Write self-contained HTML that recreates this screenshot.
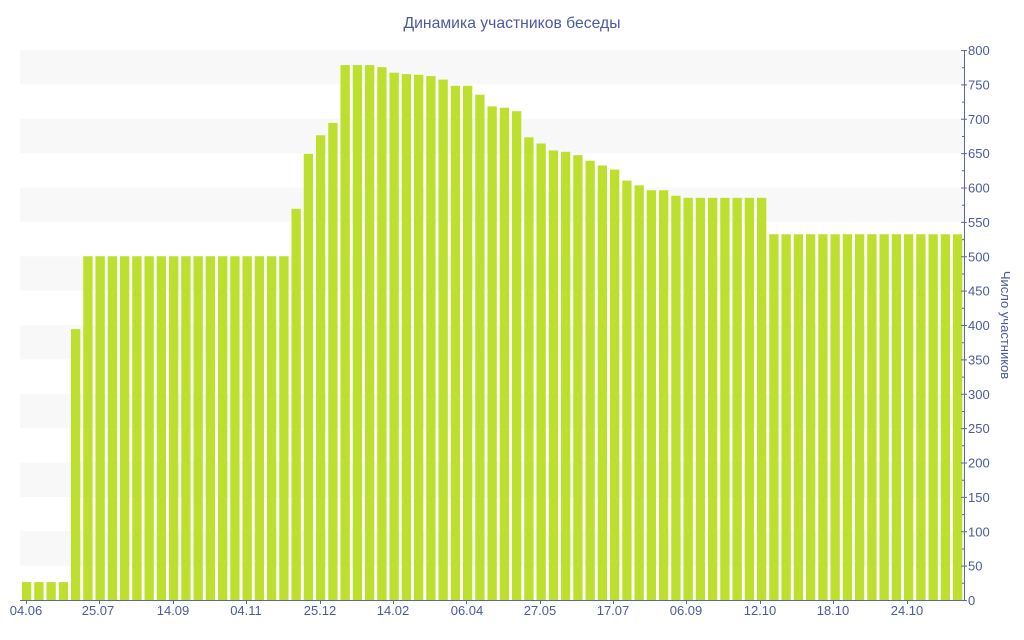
<!DOCTYPE html>
<html><head><meta charset="utf-8"><style>
html,body{margin:0;padding:0;background:#fff;}
svg{display:block;font-family:"Liberation Sans","DejaVu Sans",sans-serif;}
</style></head><body>
<svg width="1024" height="640" viewBox="0 0 1024 640" xmlns="http://www.w3.org/2000/svg">
<rect width="1024" height="640" fill="#fff"/>
<g fill="#f8f8f8">
<rect x="20" y="50" width="944" height="34.4"/>
<rect x="20" y="118.75" width="944" height="34.4"/>
<rect x="20" y="187.5" width="944" height="34.4"/>
<rect x="20" y="256.25" width="944" height="34.4"/>
<rect x="20" y="325" width="944" height="34.4"/>
<rect x="20" y="393.75" width="944" height="34.4"/>
<rect x="20" y="462.5" width="944" height="34.4"/>
<rect x="20" y="531.25" width="944" height="34.4"/>
</g>
<g fill="#bde02e">
<rect x="22" y="582.1" width="9.3" height="17.9"/>
<rect x="34.25" y="582.1" width="9.3" height="17.9"/>
<rect x="46.5" y="582.1" width="9.3" height="17.9"/>
<rect x="58.75" y="582.1" width="9.3" height="17.9"/>
<rect x="71" y="329.1" width="9.3" height="270.9"/>
<rect x="83.25" y="256.25" width="9.3" height="343.75"/>
<rect x="95.5" y="256.25" width="9.3" height="343.75"/>
<rect x="107.75" y="256.25" width="9.3" height="343.75"/>
<rect x="120" y="256.25" width="9.3" height="343.75"/>
<rect x="132.25" y="256.25" width="9.3" height="343.75"/>
<rect x="144.5" y="256.25" width="9.3" height="343.75"/>
<rect x="156.75" y="256.25" width="9.3" height="343.75"/>
<rect x="169" y="256.25" width="9.3" height="343.75"/>
<rect x="181.25" y="256.25" width="9.3" height="343.75"/>
<rect x="193.5" y="256.25" width="9.3" height="343.75"/>
<rect x="205.75" y="256.25" width="9.3" height="343.75"/>
<rect x="218" y="256.25" width="9.3" height="343.75"/>
<rect x="230.25" y="256.25" width="9.3" height="343.75"/>
<rect x="242.5" y="256.25" width="9.3" height="343.75"/>
<rect x="254.75" y="256.25" width="9.3" height="343.75"/>
<rect x="267" y="256.25" width="9.3" height="343.75"/>
<rect x="279.25" y="256.25" width="9.3" height="343.75"/>
<rect x="291.5" y="208.8" width="9.3" height="391.2"/>
<rect x="303.75" y="153.8" width="9.3" height="446.2"/>
<rect x="316" y="135.25" width="9.3" height="464.75"/>
<rect x="328.25" y="122.9" width="9.3" height="477.1"/>
<rect x="340.5" y="65.1" width="9.3" height="534.9"/>
<rect x="352.75" y="65.1" width="9.3" height="534.9"/>
<rect x="365" y="65.1" width="9.3" height="534.9"/>
<rect x="377.25" y="67.2" width="9.3" height="532.8"/>
<rect x="389.5" y="72.7" width="9.3" height="527.3"/>
<rect x="401.75" y="74.1" width="9.3" height="525.9"/>
<rect x="414" y="74.75" width="9.3" height="525.25"/>
<rect x="426.25" y="76.1" width="9.3" height="523.9"/>
<rect x="438.5" y="79.6" width="9.3" height="520.4"/>
<rect x="450.75" y="85.75" width="9.3" height="514.25"/>
<rect x="463" y="85.75" width="9.3" height="514.25"/>
<rect x="475.25" y="94.7" width="9.3" height="505.3"/>
<rect x="487.5" y="106.4" width="9.3" height="493.6"/>
<rect x="499.75" y="107.75" width="9.3" height="492.25"/>
<rect x="512" y="111.2" width="9.3" height="488.8"/>
<rect x="524.25" y="137.3" width="9.3" height="462.7"/>
<rect x="536.5" y="143.5" width="9.3" height="456.5"/>
<rect x="548.75" y="150.4" width="9.3" height="449.6"/>
<rect x="561" y="151.75" width="9.3" height="448.25"/>
<rect x="573.25" y="155.2" width="9.3" height="444.8"/>
<rect x="585.5" y="160.7" width="9.3" height="439.3"/>
<rect x="597.75" y="165.5" width="9.3" height="434.5"/>
<rect x="610" y="169.6" width="9.3" height="430.4"/>
<rect x="622.25" y="180.6" width="9.3" height="419.4"/>
<rect x="634.5" y="185.4" width="9.3" height="414.6"/>
<rect x="646.75" y="190.25" width="9.3" height="409.75"/>
<rect x="659" y="190.25" width="9.3" height="409.75"/>
<rect x="671.25" y="195.75" width="9.3" height="404.25"/>
<rect x="683.5" y="197.8" width="9.3" height="402.2"/>
<rect x="695.75" y="197.8" width="9.3" height="402.2"/>
<rect x="708" y="197.8" width="9.3" height="402.2"/>
<rect x="720.25" y="197.8" width="9.3" height="402.2"/>
<rect x="732.5" y="197.8" width="9.3" height="402.2"/>
<rect x="744.75" y="197.8" width="9.3" height="402.2"/>
<rect x="757" y="197.8" width="9.3" height="402.2"/>
<rect x="769.25" y="234.25" width="9.3" height="365.75"/>
<rect x="781.5" y="234.25" width="9.3" height="365.75"/>
<rect x="793.75" y="234.25" width="9.3" height="365.75"/>
<rect x="806" y="234.25" width="9.3" height="365.75"/>
<rect x="818.25" y="234.25" width="9.3" height="365.75"/>
<rect x="830.5" y="234.25" width="9.3" height="365.75"/>
<rect x="842.75" y="234.25" width="9.3" height="365.75"/>
<rect x="855" y="234.25" width="9.3" height="365.75"/>
<rect x="867.25" y="234.25" width="9.3" height="365.75"/>
<rect x="879.5" y="234.25" width="9.3" height="365.75"/>
<rect x="891.75" y="234.25" width="9.3" height="365.75"/>
<rect x="904" y="234.25" width="9.3" height="365.75"/>
<rect x="916.25" y="234.25" width="9.3" height="365.75"/>
<rect x="928.5" y="234.25" width="9.3" height="365.75"/>
<rect x="940.75" y="234.25" width="9.3" height="365.75"/>
<rect x="953" y="234.25" width="9.3" height="365.75"/>
</g>
<g stroke="#5a66a6" stroke-width="1" fill="none">
<line x1="20" y1="600.5" x2="964" y2="600.5"/>
<line x1="964.5" y1="50" x2="964.5" y2="601"/>
<path d="M961 50.5h6M961 84.9h6M961 119.3h6M961 153.6h6M961 188h6M961 222.4h6M961 256.8h6M961 291.1h6M961 325.5h6M961 359.9h6M961 394.3h6M961 428.6h6M961 463h6M961 497.4h6M961 531.8h6M961 566.1h6M961 600.5h6"/>
<path d="M962 67.7h3M962 102.1h3M962 136.5h3M962 170.8h3M962 205.2h3M962 239.6h3M962 274h3M962 308.3h3M962 342.7h3M962 377.1h3M962 411.5h3M962 445.8h3M962 480.2h3M962 514.6h3M962 549h3M962 583.3h3"/>
<path d="M26.5 600v4M99.5 600v4M173.5 600v4M246.5 600v4M320.5 600v4M393.5 600v4M466.5 600v4M540.5 600v4M613.5 600v4M686.5 600v4M760.5 600v4M833.5 600v4M907.5 600v4"/>
</g>
<g fill="#4a5a9e" font-size="13">
<text x="968" y="55">800</text>
<text x="968" y="89.4">750</text>
<text x="968" y="123.8">700</text>
<text x="968" y="158.1">650</text>
<text x="968" y="192.5">600</text>
<text x="968" y="226.9">550</text>
<text x="968" y="261.3">500</text>
<text x="968" y="295.6">450</text>
<text x="968" y="330">400</text>
<text x="968" y="364.4">350</text>
<text x="968" y="398.8">300</text>
<text x="968" y="433.1">250</text>
<text x="968" y="467.5">200</text>
<text x="968" y="501.9">150</text>
<text x="968" y="536.3">100</text>
<text x="968" y="570.6">50</text>
<text x="968" y="605">0</text>
</g>
<g fill="#4a5a9e" font-size="13" text-anchor="middle">
<text x="26" y="615">04.06</text>
<text x="98" y="615">25.07</text>
<text x="173" y="615">14.09</text>
<text x="246" y="615">04.11</text>
<text x="320" y="615">25.12</text>
<text x="393" y="615">14.02</text>
<text x="467" y="615">06.04</text>
<text x="540" y="615">27.05</text>
<text x="613" y="615">17.07</text>
<text x="686" y="615">06.09</text>
<text x="760" y="615">12.10</text>
<text x="833" y="615">18.10</text>
<text x="907" y="615">24.10</text>
</g>
<text x="0" y="0" transform="translate(1001,325) rotate(90)" fill="#4a5a9e" font-size="13" text-anchor="middle">Число участников</text>
<text x="512" y="28" fill="#4a5a9e" font-size="16" text-anchor="middle" textLength="217" lengthAdjust="spacingAndGlyphs">Динамика участников беседы</text>
</svg>
</body></html>
